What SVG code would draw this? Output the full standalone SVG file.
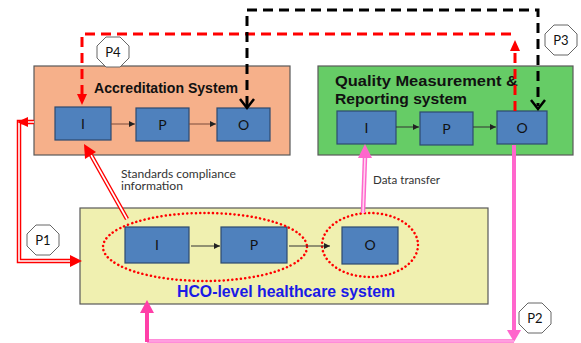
<svg xmlns="http://www.w3.org/2000/svg" width="581" height="343" viewBox="0 0 581 343">
<style>
.sys{stroke:#595959;stroke-width:1.2}
.ib{fill:#4F81BD;stroke:#2E4A6E;stroke-width:1.2}
.ibt{font-family:Lato,"Liberation Sans",sans-serif;font-size:14px;fill:#111;text-anchor:middle}
.title{font-family:"Liberation Sans",Arial,sans-serif;font-weight:bold;font-size:15px;fill:#111}
.lbl{font-family:Lato,"Liberation Sans",sans-serif;font-size:11px;fill:#333}
.oct{fill:#fff;stroke:#666;stroke-width:1}
.octt{font-family:Lato,"Liberation Sans",sans-serif;font-size:13px;fill:#111;text-anchor:middle}
.flow{stroke:#333;stroke-width:1;fill:none}
.rdash{stroke:#FF0000;stroke-width:3;fill:none;stroke-dasharray:10 6}
.bdash{stroke:#000;stroke-width:3;fill:none;stroke-dasharray:10 6}
.dblR{stroke:#FF0000;stroke-width:4.5;fill:none}
.dblRin{stroke:#fff;stroke-width:1.6;fill:none}
.dblP{stroke:#FF66CC;stroke-width:4.5;fill:none}
.dblPin{stroke:#FFD6F0;stroke-width:1.6;fill:none}
.dots{fill:none;stroke:#FF0000;stroke-width:2.5;stroke-dasharray:0.1 4.2;stroke-linecap:round}
</style>
<defs>
<marker id="sm" markerWidth="8" markerHeight="8" refX="6" refY="3" orient="auto" markerUnits="userSpaceOnUse">
<path d="M0,0 L6,3 L0,6 z" fill="#222"/>
</marker>
<polygon id="octa" points="-7,-15 7,-15 16,-6 16,6 7,15 -7,15 -16,6 -16,-6"/>
</defs>

<g id="accreditation">
<rect class="sys" x="34" y="66" width="256" height="89" fill="#F6B08A"/>
<text class="title" x="94" y="93" textLength="144" lengthAdjust="spacingAndGlyphs">Accreditation System</text>
<rect class="ib" x="55" y="107" width="56" height="33"/>
<text class="ibt" x="83" y="129">I</text>
<rect class="ib" x="136" y="108" width="53" height="33"/>
<text class="ibt" x="162.5" y="130">P</text>
<rect class="ib" x="217" y="108" width="53" height="33"/>
<text class="ibt" x="243.5" y="130">O</text>
</g>

<g id="qmr">
<rect class="sys" x="318" y="66" width="255" height="89" fill="#66CC66"/>
<text class="title" x="335" y="86" textLength="183" lengthAdjust="spacingAndGlyphs">Quality Measurement &amp;</text>
<text class="title" x="335" y="104" textLength="132" lengthAdjust="spacingAndGlyphs">Reporting system</text>
<rect class="ib" x="337" y="111" width="59" height="33"/>
<text class="ibt" x="366.5" y="133">I</text>
<rect class="ib" x="420" y="112" width="53" height="33"/>
<text class="ibt" x="446.5" y="134">P</text>
<rect class="ib" x="497" y="111" width="50" height="33"/>
<text class="ibt" x="522" y="133">O</text>
</g>

<g id="hco">
<rect class="sys" x="80" y="208" width="408" height="96" fill="#F0F0B0"/>
<text class="title" x="177" y="297" textLength="218" lengthAdjust="spacingAndGlyphs" style="fill:#1A1AE6;font-size:16px">HCO-level healthcare system</text>
<rect class="ib" x="125" y="227" width="64" height="36"/>
<text class="ibt" x="157" y="250">I</text>
<rect class="ib" x="221" y="227" width="66" height="36"/>
<text class="ibt" x="254" y="250">P</text>
<rect class="ib" x="342" y="227" width="56" height="37"/>
<text class="ibt" x="370" y="250">O</text>
<ellipse class="dots" cx="205" cy="247" rx="102" ry="34"/>
<ellipse class="dots" cx="370" cy="245" rx="48" ry="32"/>
</g>

<g id="P1"><use href="#octa" class="oct" x="43" y="240"/><text class="octt" x="43" y="245">P1</text></g>
<g id="P2"><use href="#octa" class="oct" x="535" y="318"/><text class="octt" x="535" y="323">P2</text></g>
<g id="P3"><use href="#octa" class="oct" x="561" y="40"/><text class="octt" x="561" y="45">P3</text></g>
<g id="P4"><use href="#octa" class="oct" x="113" y="52"/><text class="octt" x="113" y="57">P4</text></g>

<g id="connectors">
<line class="flow" x1="111" y1="124" x2="135" y2="124" marker-end="url(#sm)" style="stroke:#7A4A3A"/>
<line class="flow" x1="189" y1="124" x2="216" y2="124" marker-end="url(#sm)" style="stroke:#7A4A3A"/>
<line class="flow" x1="396" y1="127" x2="419" y2="127" marker-end="url(#sm)"/>
<line class="flow" x1="473" y1="127" x2="496" y2="127" marker-end="url(#sm)"/>
<line class="flow" x1="191" y1="246" x2="220" y2="246" marker-end="url(#sm)"/>
<line class="flow" x1="289" y1="246" x2="330" y2="246" marker-end="url(#sm)"/>

<path class="rdash" d="M82,95 V34 H517"/>
<polygon points="77,94 87,94 82,105" fill="#FF0000"/>
<path class="rdash" d="M515,111 V50"/>
<polygon points="510,51 520,51 515,40" fill="#FF0000"/>

<path class="bdash" d="M247,106 V10 H538 V106"/>
<path d="M240,99 L247,108 L254,99" fill="none" stroke="#000" stroke-width="2.5"/>
<path d="M531,100 L538,109 L545,100" fill="none" stroke="#000" stroke-width="2.5"/>

<path class="dblR" d="M34,122 H19 V261 H72"/>
<path class="dblRin" d="M34,122 H19 V261 H72"/>
<polygon points="17,122 28,117 28,127" fill="#FF0000"/>
<polygon points="82,261 70,255 70,267" fill="#FF0000"/>

<path class="dblR" d="M127,219 L91,155"/>
<path class="dblRin" d="M127,219 L91,155"/>
<polygon points="84,144 96,152 85,159" fill="#FF0000"/>
<text class="lbl" x="121" y="178" textLength="115" lengthAdjust="spacingAndGlyphs">Standards compliance</text>
<text class="lbl" x="121" y="190" textLength="62" lengthAdjust="spacingAndGlyphs">information</text>

<path class="dblP" d="M363,213 L365,157"/>
<path class="dblPin" d="M363,213 L365,157"/>
<polygon points="365,144 358,158 372,158" fill="#FF66CC"/>
<text class="lbl" x="373" y="184" textLength="67" lengthAdjust="spacingAndGlyphs">Data transfer</text>

<path d="M514,145 V331" stroke="#FF66CC" stroke-width="4" fill="none"/>
<polygon points="507,330 521,330 514,342" fill="#FF66CC"/>
<path d="M514,341 H147" stroke="#FF66CC" stroke-width="3.5" fill="none"/>
<path d="M514,341 H147" stroke="#FFD6F0" stroke-width="1.2" fill="none"/>
<path d="M147,342 V312" stroke="#FF3FA8" stroke-width="4" fill="none"/>
<polygon points="140,313 154,313 147,300" fill="#FF3FA8"/>
</g>
</svg>
